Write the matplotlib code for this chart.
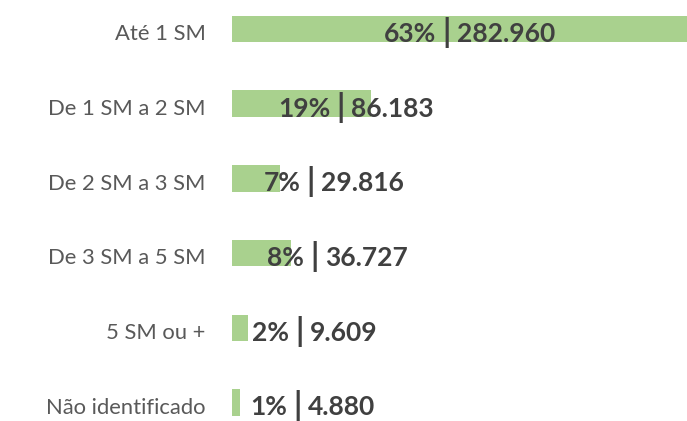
import matplotlib
matplotlib.use("Agg")
import matplotlib.pyplot as plt
from matplotlib.transforms import blended_transform_factory

categories = ["Até 1 SM", "De 1 SM a 2 SM", "De 2 SM a 3 SM", "De 3 SM a 5 SM", "5 SM ou +", "Não identificado"]
values = [282960, 86183, 29816, 36727, 9609, 4880]
pct_labels = ["63%", "19%", "7%", "8%", "2%", "1%"]
value_labels = ["282.960", "86.183", "29.816", "36.727", "9.609", "4.880"]

BAR = "#A9D18E"
DARK = "#404040"
GREY = "#595959"

fig = plt.figure(figsize=(6.87, 4.21), dpi=100)
ax = fig.add_axes([232.3 / 687, 0, 1 - 232.3 / 687, 1])
ypos = list(range(len(categories)))
ax.barh(ypos, values, height=0.355, color=BAR)
vmax = max(values)
ax.set_xlim(0, vmax)
ax.set_ylim(5.248, -0.388)
ax.axis("off")

trans = blended_transform_factory(ax.transAxes, ax.transData)
px = 72 / 100.0  # points per pixel

for y, cat, v, p, n in zip(ypos, categories, values, pct_labels, value_labels):
    ax.annotate(cat, xy=(0, y), xycoords=trans, xytext=(-26.6 * px, -11.3 * px),
                textcoords="offset points", ha="right", va="baseline",
                fontsize=15.8, family="Lato", fontweight="normal", color=GREY)
    sep = 0.137 + 0.335 * v / vmax
    ax.annotate(p, xy=(sep, y), xycoords=trans, xytext=(-10.5 * px, -13 * px),
                textcoords="offset points", ha="right", va="baseline",
                fontsize=19, family="Lato", fontweight="bold", color=DARK)
    ax.annotate("|", xy=(sep, y), xycoords=trans, xytext=(0, -14 * px),
                textcoords="offset points", ha="center", va="baseline",
                fontsize=23, family="Lato", fontweight="bold", color=DARK)
    ax.annotate(n, xy=(sep, y), xycoords=trans, xytext=(10.5 * px, -13 * px),
                textcoords="offset points", ha="left", va="baseline",
                fontsize=19, family="Lato", fontweight="bold", color=DARK)

fig.savefig("out.png", dpi=100)
